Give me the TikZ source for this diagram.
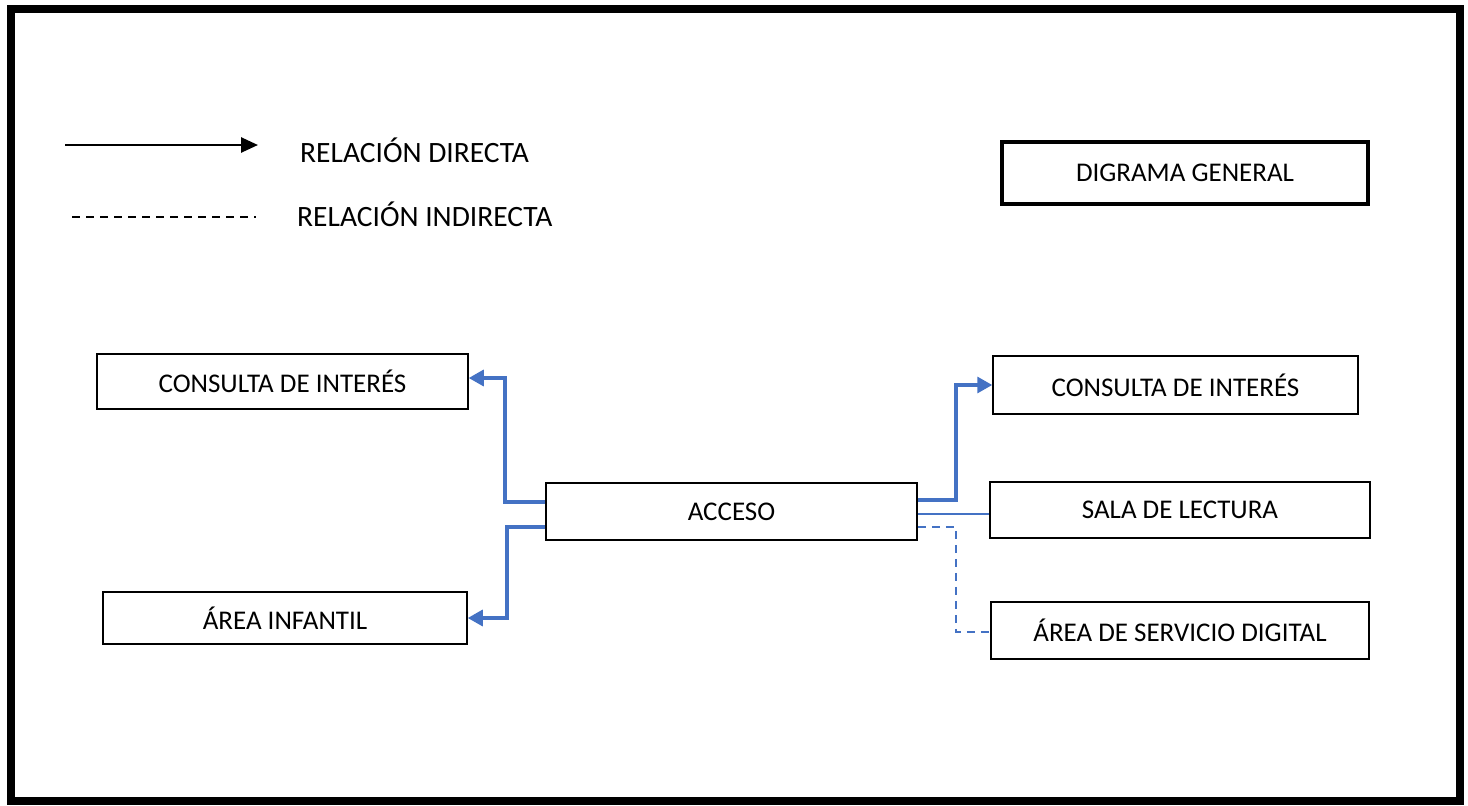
\documentclass[tikz,border=0pt]{standalone}
\usepackage{fontspec}
\setmainfont{Carlito}
\usetikzlibrary{arrows.meta}
\definecolor{lineblue}{HTML}{4472C4}
\tikzset{
  box/.style={draw=black, line width=1.5pt, minimum height=#1, inner sep=0pt, font=\fontsize{27}{32}\selectfont},
  conn/.style={draw=lineblue, line width=3.3pt},
  thinconn/.style={draw=lineblue, line width=1.6pt},
  dashconn/.style={draw=lineblue, line width=2.4pt, dash pattern=on 8pt off 6pt},
  tip/.style={-{Triangle[length=15pt,width=16pt]}},
  lbl/.style={font=\fontsize{29.5}{34}\selectfont, anchor=west, inner sep=0pt}
}
\begin{document}
\begin{tikzpicture}[x=1pt,y=-1pt]
\useasboundingbox (0,0) rectangle (1468,806);
\draw[line width=8pt] (11,9) rectangle (1459.5,800.5);
% legend
\coordinate (la1) at (65,145);
\coordinate (la2) at (258,145);
\draw[line width=2.6pt, -{Triangle[length=17pt,width=15pt]}] (la1) -- (la2);
\node[lbl] (ld) at (300,150) {RELACIÓN DIRECTA};
\coordinate (lb1) at (72,217);
\coordinate (lb2) at (256,217);
\draw[line width=1.5pt, dash pattern=on 8pt off 6pt] (lb1) -- (lb2);
\node[lbl] (li) at (297,214) {RELACIÓN INDIRECTA};
% title box
\node[box=62pt, line width=3.8pt, minimum width=366pt] (title) at (1185,173) {DIGRAMA GENERAL};
% boxes
\node[box=55pt, minimum width=371pt] (cl) at (282.5,381.5) {CONSULTA DE INTERÉS};
\node[box=52pt, minimum width=364pt] (ai) at (285,618) {ÁREA INFANTIL};
\node[box=57pt, minimum width=371pt] (acc) at (731.5,511.5) {ACCESO};
\node[box=58pt, minimum width=365pt] (cr) at (1175.5,385) {CONSULTA DE INTERÉS};
\node[box=56pt, minimum width=380pt] (sala) at (1180,510) {SALA DE LECTURA};
\node[box=57pt, minimum width=378pt] (asd) at (1180,630.5) {ÁREA DE SERVICIO DIGITAL};
% connectors
\draw[conn, tip] (acc.west |- 0,502) -- (505,502) |- (cl.east |- 0,378);
\draw[conn, tip] (acc.west |- 0,527) -- (507,527) |- (ai.east |- 0,618);
\draw[conn, tip] (acc.east |- 0,500) -- (956,500) |- (cr.west |- 0,385);
\draw[thinconn] (acc.east |- 0,514) -- (sala.west |- 0,514);
\draw[dashconn] (acc.east |- 0,527) -- (956,527) |- (asd.west |- 0,632);
\end{tikzpicture}
\end{document}
